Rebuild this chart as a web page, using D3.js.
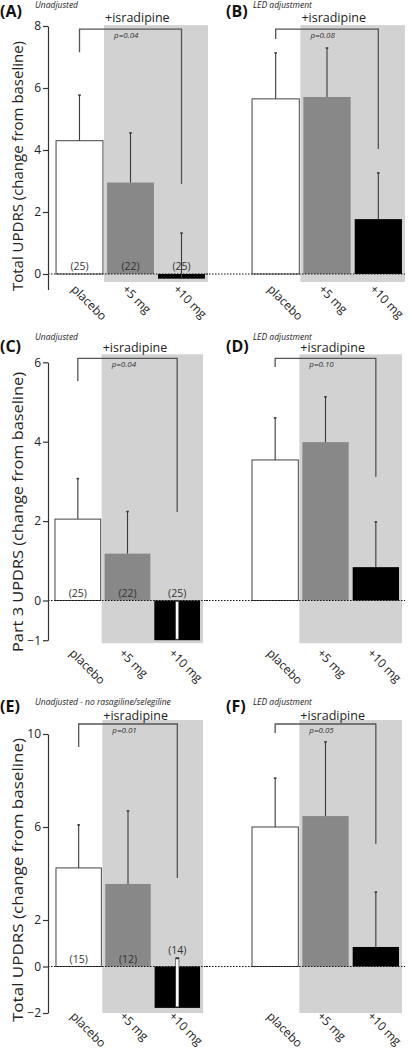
<!DOCTYPE html>
<html><head><meta charset="utf-8">
<script src="https://cdn.jsdelivr.net/npm/d3@7"></script>
<style>
html,body{margin:0;padding:0;background:#fff;}
svg{display:block;font-family:"Open Sans",sans-serif;}
</style></head>
<body><svg id="chart" width="410" height="1050"></svg>
<script>
// ---------- DATA ----------
const categories = ["placebo", "+5 mg", "+10 mg"];
const panelIds = ["A", "B", "C", "D", "E", "F"];
const panelNotes = ["Unadjusted", "LED adjustment", "Unadjusted", "LED adjustment",
  "Unadjusted - no rasagiline/selegiline", "LED adjustment"];
const yTitles = ["Total UPDRS (change from baseline)", "Part 3 UPDRS (change from baseline)",
  "Total UPDRS (change from baseline)"];
const tickValues1 = [0, 2, 4, 6, 8];
const tickValues2 = [-1, 0, 2, 4, 6];
const tickValues3 = [-2, 0, 2, 6, 10];
const groupLabel = "+isradipine";

const meanA = [4.3, 2.95, -0.15], errTopA = [5.77, 4.55, 1.32], countA = ["(25)", "(22)", "(25)"];
const meanB = [5.65, 5.71, 1.77], errTopB = [7.13, 7.29, 3.26], countB = ["", "", ""];
const meanC = [2.05, 1.18, -1.0], errTopC = [3.07, 2.24, 0.0], countC = ["(25)", "(22)", "(25)"];
const meanD = [3.54, 3.99, 0.84], errTopD = [4.6, 5.13, 1.98], countD = ["", "", ""];
const meanE = [4.24, 3.55, -1.78], errTopE = [6.09, 6.69, 0.37], countE = ["(15)", "(12)", "(14)"];
const meanF = [6.0, 6.47, 0.84], errTopF = [8.1, 9.66, 3.2], countF = ["", "", ""];
const pValues = ["p=0.04", "p=0.08", "p=0.04", "p=0.10", "p=0.01", "p=0.05"];
// bracket: [top, left end, right end] in data units
const bracketA = [7.9, 7.15, 2.9], bracketB = [7.9, 7.58, 4.03];
const bracketC = [6.1, 5.53, 2.23], bracketD = [6.1, 5.88, 3.11];
const bracketE = [10.43, 9.44, 3.81], bracketF = [10.43, 10.04, 5.27];

// ---------- LAYOUT ----------
const svg = d3.select("#chart");
const rows = [
  { domain: [-0.5, 8], range: [289.5, 26], ticks: tickValues1, title: yTitles[0], titleLen: 250, titleY: 166,
    letterY: 17, noteY: 8, israY: 22, labelY: 290, grayBottomPx: 8 },
  { domain: [-1, 6], range: [640.2, 362.3], ticks: tickValues2, title: yTitles[1], titleLen: 280, titleY: 512,
    letterY: 352, noteY: 340, israY: 352, labelY: 654, grayBottomPx: 3 },
  { domain: [-2, 10], range: [1013, 734], ticks: tickValues3, title: yTitles[2], titleLen: 284, titleY: 880,
    letterY: 712, noteY: 705, israY: 720, labelY: 1017, grayBottomPx: 0 }
];
const cols = [
  { axisX: 48, letterX: 0, noteX: 35, zeroFrom: 48, zeroTo: 208 },
  { axisX: null, letterX: 226, noteX: 253, zeroFrom: 206, zeroTo: 405 }
];
const panelXRange = [[54, 207], [250, 404], [53, 202], [250, 401], [54, 202], [250, 401]];
const panels = [
  { mean: meanA, err: errTopA, count: countA, br: bracketA },
  { mean: meanB, err: errTopB, count: countB, br: bracketB },
  { mean: meanC, err: errTopC, count: countC, br: bracketC, whiteErr: true },
  { mean: meanD, err: errTopD, count: countD, br: bracketD },
  { mean: meanE, err: errTopE, count: countE, br: bracketE, whiteErr: true },
  { mean: meanF, err: errTopF, count: countF, br: bracketF }
];
const fills = ["#ffffff", "#888888", "#000000"];
const grayBg = "#d2d2d2";
const dark = "#3a3a3a";

panels.forEach((p, i) => {
  const r = rows[Math.floor(i / 2)], c = cols[i % 2];
  const y = d3.scaleLinear().domain(r.domain).range(r.range);
  const x = d3.scaleBand().domain(categories).range(panelXRange[i]).paddingInner(0.08).paddingOuter(0.04);
  const g = svg.append("g");
  const y0 = y(0), bw = x.bandwidth();

  // gray background for isradipine groups
  const gx0 = x(categories[1]) - 3, gx1 = x(categories[2]) + bw + 3;
  const gTop = y(p.br[0]) - 4;
  const gBot = (r.domain[0] < -0.6 ? y(r.domain[0]) : y0) + r.grayBottomPx;
  g.append("rect").attr("x", gx0).attr("y", gTop).attr("width", gx1 - gx0).attr("height", gBot - gTop).attr("fill", grayBg);

  // group label
  g.append("text").attr("x", gx0 + 1).attr("y", r.israY).attr("font-size", 12.5).attr("fill", "#222").text(groupLabel);

  // panel letter and note
  g.append("text").attr("x", c.letterX).attr("y", r.letterY).attr("font-size", 16).attr("font-weight", "bold")
    .attr("fill", "#111").text("(" + panelIds[i] + ")");
  g.append("text").attr("x", c.noteX).attr("y", r.noteY).attr("font-size", 8.5).attr("font-style", "italic")
    .attr("fill", "#222").text(panelNotes[i]);

  // bars
  p.mean.forEach((m, k) => {
    const mv = Math.max(m, r.domain[0]);
    const yt = Math.min(y(mv), y0), yb = Math.max(y(mv), y0);
    g.append("rect").attr("x", x(categories[k])).attr("y", yt).attr("width", bw).attr("height", yb - yt)
      .attr("fill", fills[k]).attr("stroke", k === 0 ? "#444" : "none").attr("stroke-width", 1);
  });

  // zero dotted line
  g.append("line").attr("x1", c.zeroFrom).attr("x2", c.zeroTo).attr("y1", y0).attr("y2", y0)
    .attr("stroke", "#111").attr("stroke-width", 1).attr("stroke-dasharray", "1.5,1.5");

  // error bars
  p.mean.forEach((m, k) => {
    const cx = x(categories[k]) + bw / 2;
    const mv = Math.max(m, r.domain[0]);
    const ya = y(mv), yb = y(p.err[k]);
    if (p.whiteErr && k === 2) {
      g.append("rect").attr("x", cx - 1.6).attr("y", yb).attr("width", 3.2).attr("height", ya - yb - 1)
        .attr("fill", "#fff").attr("stroke", "#333").attr("stroke-width", 0.6);
      g.append("rect").attr("x", cx - 1.6).attr("y", yb - 0.5).attr("width", 3.2).attr("height", 1.8).attr("fill", "#333");
    } else {
      g.append("line").attr("x1", cx).attr("x2", cx).attr("y1", ya).attr("y2", yb)
        .attr("stroke", dark).attr("stroke-width", 1.1);
      g.append("line").attr("x1", cx - 1.3).attr("x2", cx + 1.3).attr("y1", yb).attr("y2", yb)
        .attr("stroke", dark).attr("stroke-width", 1.6);
    }
  });

  // counts
  p.count.forEach((t, k) => {
    if (!t) return;
    const cx = x(categories[k]) + bw / 2;
    let ty = y0 - 4;
    if (p.whiteErr && k === 2) ty = Math.min(y0, y(p.err[k])) - 4;
    g.append("text").attr("x", cx).attr("y", ty).attr("text-anchor", "middle").attr("font-size", 10.5)
      .attr("fill", "#333").text(t);
  });

  // significance bracket
  const bx0 = x(categories[0]) + bw / 2, bx1 = x(categories[2]) + bw / 2;
  g.append("path").attr("d", d3.line()([[bx0, y(p.br[1])], [bx0, y(p.br[0])], [bx1, y(p.br[0])], [bx1, y(p.br[2])]]))
    .attr("fill", "none").attr("stroke", "#555").attr("stroke-width", 1.3);
  g.append("text").attr("x", gx0 + 10).attr("y", y(p.br[0]) + 9).attr("font-size", 8).attr("font-style", "italic")
    .attr("fill", "#333").text(pValues[i]);

  // x labels rotated
  categories.forEach((cat, k) => {
    const cx = x(categories[k]) + bw / 2;
    g.append("text").attr("transform", `translate(${cx - 9},${r.labelY}) rotate(45)`)
      .attr("font-size", 12).attr("fill", "#222").text(cat);
  });

  // y axis (left column only)
  if (c.axisX !== null) {
    const ax = g.append("g").attr("transform", `translate(${c.axisX},0)`)
      .call(d3.axisLeft(y).tickValues(r.ticks).tickSize(5).tickSizeOuter(0).tickFormat(d3.format("d")));
    ax.select(".domain").attr("stroke", "#333").attr("stroke-width", 1.2);
    ax.selectAll(".tick line").attr("stroke", "#333").attr("stroke-width", 1.2);
    ax.selectAll(".tick text").attr("font-size", 12).attr("fill", "#222")
      .attr("font-family", "'Open Sans',sans-serif").attr("x", -7);
    g.append("text").attr("transform", `translate(23,${r.titleY}) rotate(-90)`).attr("text-anchor", "middle")
      .attr("font-size", 15).attr("fill", "#222").attr("textLength", r.titleLen).attr("lengthAdjust", "spacingAndGlyphs")
      .text(r.title);
  }
});
</script></body></html>
